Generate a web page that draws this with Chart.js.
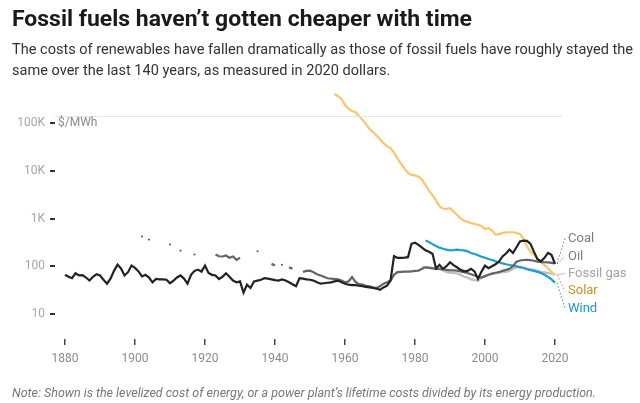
<!DOCTYPE html>
<html><head><meta charset="utf-8">
<script src="https://cdn.jsdelivr.net/npm/chart.js@4.4.0/dist/chart.umd.min.js"></script>
<style>
html,body{margin:0;padding:0;background:#fff;width:640px;height:403px;overflow:hidden;font-family:Roboto,sans-serif}
#wrap{position:absolute;left:0;top:0;width:640px;height:403px}
.t{position:absolute;left:12px;white-space:nowrap;transform-origin:0 0}
#title{top:8px;font-size:22px;font-weight:700;line-height:22px;color:#1a1a1a}
#sub{top:39px;font-size:14px;line-height:21px;color:#333}
#note{top:386px;font-size:12px;font-style:italic;line-height:14px;color:#777}
</style></head>
<body>
<div id="wrap"><canvas id="c" width="640" height="403"></canvas></div>
<div class="t" id="title">Fossil fuels haven’t gotten cheaper with time</div>
<div class="t" id="sub">The costs of renewables have fallen dramatically as those of fossil fuels have roughly stayed the<br>same over the last 140 years, as measured in 2020 dollars.</div>
<div class="t" id="note">Note: Shown is the levelized cost of energy, or a power plant’s lifetime costs divided by its energy production.</div>
<script>
// ---- data ($/MWh, 2020 dollars) ----
const oilStart = 1880;
const oilValues = [
 66,60,56,71,64,65,58,50,60,68,
 64,52,43,55,80,108,90,64,75,103,
 92,78,61,66,58,46,54,53,53,52,
 44,50,58,64,55,43,66,80,85,77,
 103,72,66,64,54,60,71,60,50,46,
 48,28,41,35,48,50,52,56,55,53,
 51,50,53,50,46,42,38,56,55,53,
 52,50,46,43,44,45,46,48,50,46,
 43,41,40,40,39,38,37,36,35,34,
 32,36,39,50,162,150,150,152,155,295,
 310,280,245,215,200,182,90,107,88,100,
 121,105,95,84,78,80,88,78,54,77,
 103,91,100,110,125,160,185,224,190,250,
 330,345,340,295,200,140,127,150,190,173,
 112];
const coalStart = 1902;
const coalValues = [
 420,null,362,null,null,null,null,null,285,null,
 null,213,null,null,null,176,null,null,null,null,
 null,176,162,160,168,150,160,136,150,null,
 null,null,null,206,null,null,null,112,104,null,
 107,null,95,88,null,null,
 76,80,81,75,68,64,60,56,55,54,
 53,50,46,48,59,47,42,41,39,38,
 36,35,38,43,46,50,66,75,76,77,
 77,78,80,81,88,95,92,90,88,88,
 86,84,82,82,81,78,75,72,68,64,
 60,58,62,66,70,73,75,80,84,88,
 100,125,132,135,136,134,130,125,122,121,
 120,118,115];
const gasStart = 1982;
const gasValues = [
 95,96,95,92,90,88,82,75,73,72,
 71,66,60,58,53,51,50,58,62,66,
 69,71,73,75,76,80,88,95,95,92,
 88,86,84,80,76,74,72,70,67];
const windStart = 1983;
const windValues = [
 346,320,290,265,245,232,222,215,218,222,
 218,215,205,190,180,170,158,150,142,135,
 127,121,115,110,106,103,100,96,92,87,
 83,80,76,72,66,60,53,45];
const solarStart = 1957;
const solarValues = [
 407000,370000,320000,240000,200000,180000,170000,140000,117000,95000,
 75000,65000,55000,46000,38000,33000,30000,24000,18000,14000,
 11000,9000,8200,8000,7500,6500,5000,3800,3100,2400,
 1800,1620,1600,1650,1400,1200,1000,900,850,800,
 770,740,700,600,630,560,460,470,500,510,
 515,515,500,470,380,260,200,175,145,125,
 105,90,75,65];

const yTickValues = [10, 100, 1000, 10000, 100000];
const yTickLabels = ['10', '100', '1K', '10K', '100K'];
const xTickYears = [1880, 1900, 1920, 1940, 1960, 1980, 2000, 2020];
const seriesLabels = ['Oil', 'Coal', 'Fossil gas', 'Solar', 'Wind'];
const labelAnchorValues = [160, 381, 70, 30, 12.8];

// ---- styles ----
const colors = ['#222222', '#646464', '#bdbdbd', '#fcc46b', '#1a9dd2'];
const labelColors = ['#7d7d7d', '#7d7d7d', '#a3a3a3', '#c6912f', '#1a96cf'];

function pts(start, vals) { return vals.map((v, i) => ({ x: start + i, y: v })); }

const dsList = [
  [oilStart, oilValues], [coalStart, coalValues], [gasStart, gasValues],
  [solarStart, solarValues], [windStart, windValues]
];
// draw order: first dataset on top
const drawOrder = [0, 1, 4, 3, 2];
const datasets = drawOrder.map(k => ({
  label: seriesLabels[k],
  data: pts(dsList[k][0], dsList[k][1]),
  borderColor: colors[k],
  backgroundColor: colors[k],
  borderWidth: 2.2,
  tension: 0,
  spanGaps: false,
  clip: false,
  pointRadius: ctx => {
    const d = ctx.dataset.data, i = ctx.dataIndex;
    if (!d[i] || d[i].y == null) return 0;
    const prev = i > 0 ? d[i - 1].y : null, next = i < d.length - 1 ? d[i + 1].y : null;
    return (prev == null && next == null) ? 1.1 : 0;
  },
  pointBorderWidth: 0,
  pointHoverRadius: 0,
  seriesIndex: k
}));

const extras = {
  id: 'extras',
  afterDraw(chart) {
    const { ctx, chartArea: a, scales } = chart;
    const y = scales.y;
    ctx.save();
    // top rule
    ctx.strokeStyle = '#e6e6e6'; ctx.lineWidth = 1;
    ctx.beginPath(); ctx.moveTo(a.left, Math.round(a.top) + 0.5); ctx.lineTo(a.right, Math.round(a.top) + 0.5); ctx.stroke();
    // unit label
    ctx.font = '12px Roboto'; ctx.fillStyle = '#8a8a8a'; ctx.textBaseline = 'middle'; ctx.textAlign = 'left';
    ctx.fillText('$/MWh', a.left + 3, y.getPixelForValue(100000));
    // series labels
    ctx.font = '13px Roboto';
    chart.data.datasets.forEach((ds, di) => {
      const k = ds.seriesIndex;
      const meta = chart.getDatasetMeta(di);
      const last = meta.data[meta.data.length - 1];
      const ly = y.getPixelForValue(labelAnchorValues[k]);
      const lx = a.right + 6;
      ctx.strokeStyle = k === 2 ? '#bdbdbd' : labelColors[k];
      ctx.setLineDash(k === 2 ? [] : [1.5, 2]);
      ctx.lineWidth = 1;
      ctx.beginPath(); ctx.moveTo(last.x + 2, last.y); ctx.lineTo(lx - 3, ly); ctx.stroke();
      ctx.setLineDash([]);
      ctx.fillStyle = labelColors[k];
      ctx.fillText(seriesLabels[k], lx, ly);
    });
    ctx.restore();
  }
};

new Chart(document.getElementById('c'), {
  type: 'line',
  data: { datasets },
  options: {
    responsive: false,
    animation: false,
    events: [],
    layout: { padding: { top: 116, left: 0, right: 78, bottom: 34 } },
    plugins: { legend: { display: false }, tooltip: { enabled: false } },
    scales: {
      x: {
        type: 'linear', min: 1877.14, max: 2022,
        afterBuildTicks: s => { s.ticks = xTickYears.map(v => ({ value: v })); },
        afterFit: s => { s.height = 30; },
        border: { display: false },
        grid: { drawOnChartArea: false, tickLength: 6, tickColor: '#444', lineWidth: 1.5 },
        ticks: { color: '#8c8c8c', font: { family: 'Roboto', size: 12 }, padding: 7, maxRotation: 0, callback: v => String(v) }
      },
      y: {
        type: 'logarithmic', min: 2.98, max: 141000,
        afterBuildTicks: s => { s.ticks = yTickValues.map(v => ({ value: v })); },
        afterFit: s => { s.width = 55; },
        border: { display: false },
        grid: { drawOnChartArea: false, tickLength: 5, tickColor: '#333', lineWidth: 2 },
        ticks: { color: '#a6a6a6', font: { family: 'Roboto', size: 12 }, padding: 5,
          callback: v => { const i = yTickValues.indexOf(v); return i >= 0 ? yTickLabels[i] : ''; } }
      }
    }
  },
  plugins: [extras]
});

// fit text widths to the reference layout
function fit(id, target) {
  const el = document.getElementById(id);
  const w = el.getBoundingClientRect().width;
  el.style.transform = 'scaleX(' + (target / w) + ')';
}
fit('title', 460);
fit('note', 584);
(function () {
  const el = document.getElementById('sub');
  const r = document.createRange();
  r.setStart(el.firstChild, 0); r.setEnd(el.firstChild, el.firstChild.length);
  const w = r.getBoundingClientRect().width;
  el.style.transform = 'scaleX(' + (621 / w) + ')';
})();
</script>
</body></html>
